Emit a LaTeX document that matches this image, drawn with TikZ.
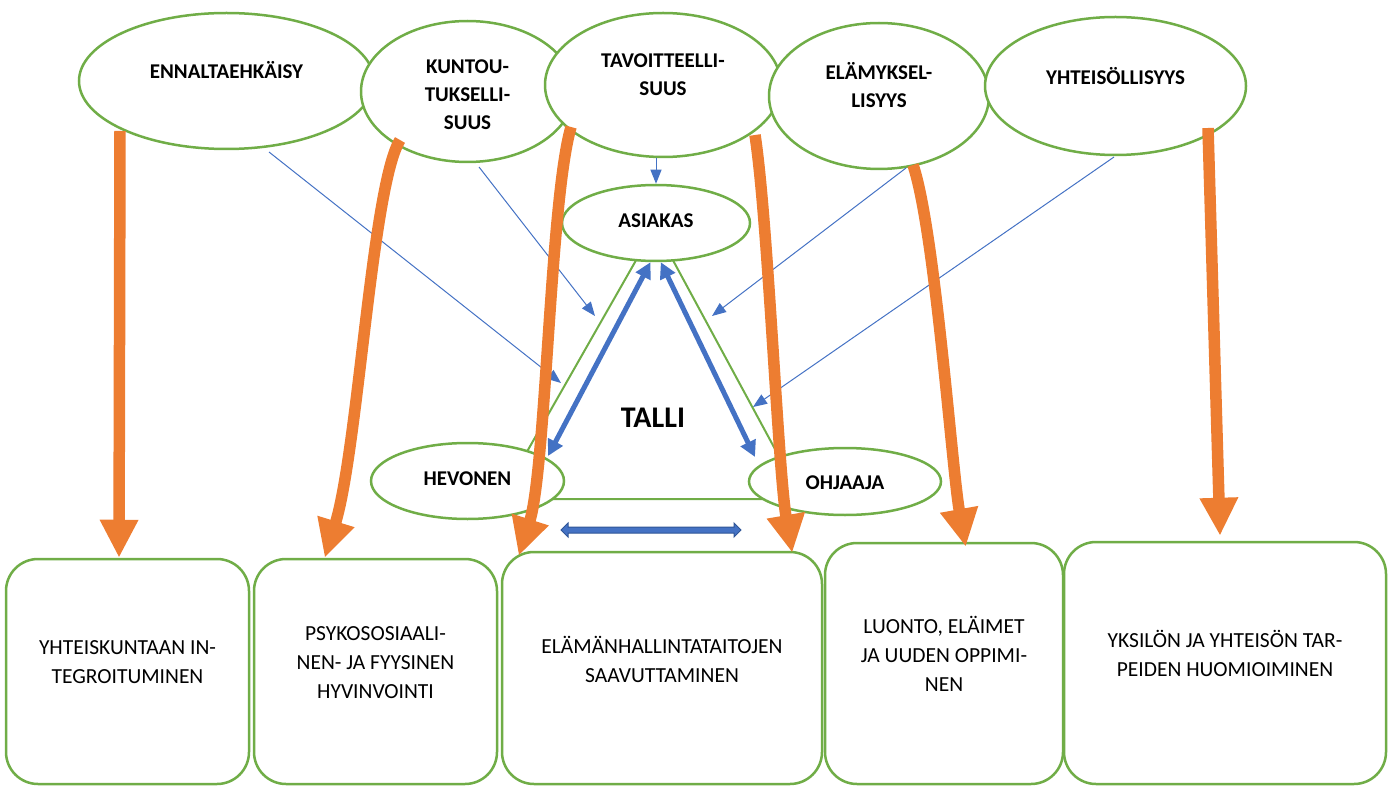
\documentclass[tikz,border=0pt]{standalone}
\usepackage{fontspec}
\setmainfont{Carlito}
\usetikzlibrary{shapes.geometric,arrows.meta}
\definecolor{gr}{HTML}{70AD47}
\definecolor{orn}{HTML}{ED7D31}
\definecolor{blu}{HTML}{4472C4}
\definecolor{dblu}{HTML}{2F5597}
\begin{document}
\begin{tikzpicture}[x=1pt,y=-1pt,
 ell/.style={ellipse, draw=gr, line width=2.5pt, fill=white, inner sep=0pt},
 ttl/.style={font=\fontsize{21}{28}\selectfont\bfseries, align=center},
 boxx/.style={draw=gr, line width=2.5pt, rounded corners=32pt, fill=white, inner sep=0pt},
 btxt/.style={font=\fontsize{21.5}{29}\selectfont, align=center},
 thinarr/.style={draw=blu, line width=1pt, -{Triangle[length=14pt,width=11pt]}},
 thickarr/.style={draw=blu, line width=5pt, {Triangle[length=16pt,width=16pt]}-{Triangle[length=16pt,width=16pt]}},
 bigarr/.style={draw=orn, line width=11.5pt, -{Triangle[length=38pt,width=36pt]}}]
\useasboundingbox (0,0) rectangle (1389,786);

% triangle (TALLI)
\coordinate (t1) at (655,227);
\coordinate (t2) at (500,499);
\coordinate (t3) at (802,499);
\draw[gr, line width=2pt] (t1) -- (t2) -- (t3) -- cycle;
\node[font=\fontsize{30}{32}\selectfont\bfseries] (talli) at (653,418) {TALLI};

% top ellipses
\node[ell, minimum width=295pt, minimum height=136pt,
  label={[ttl,yshift=11pt]center:ENNALTAEHKÄISY}] (enn) at (226.5,81) {};
\node[ell, minimum width=213pt, minimum height=141pt,
  label={[ttl,yshift=-3.5pt]center:KUNTOU-\\TUKSELLI-\\SUUS}] (kun) at (467.5,91.5) {};
\node[ell, minimum width=236pt, minimum height=144pt,
  label={[ttl,yshift=10.5pt]center:TAVOITTEELLI-\\SUUS}] (tav) at (663,85) {};
\node[ell, minimum width=220pt, minimum height=146pt,
  label={[ttl,yshift=10.5pt]center:ELÄMYKSEL-\\LISYYS}] (ela) at (879,96) {};
\node[ell, minimum width=261pt, minimum height=138pt,
  label={[ttl,yshift=10pt]center:YHTEISÖLLISYYS}] (yht) at (1115.5,86) {};

% inner ellipses
\node[ell, minimum width=188pt, minimum height=76pt,
  label={[ttl,yshift=2pt]center:ASIAKAS}] (asi) at (656,223) {};
\node[ell, minimum width=193pt, minimum height=76pt,
  label={[ttl,yshift=2pt]center:HEVONEN}] (hev) at (467.5,481) {};
\node[ell, minimum width=192pt, minimum height=67pt,
  label={[ttl,yshift=-1.5pt]center:OHJAAJA}] (ohj) at (845,481.5) {};

% bottom boxes
\node[boxx, minimum width=243pt, minimum height=225pt,
  label={[btxt,yshift=9pt]center:YHTEISKUNTAAN IN-\\TEGROITUMINEN}] (b1) at (127.5,671.5) {};
\node[boxx, minimum width=243pt, minimum height=225pt,
  label={[btxt,yshift=8.5pt]center:PSYKOSOSIAALI-\\NEN- JA FYYSINEN\\HYVINVOINTI}] (b2) at (375.5,671.5) {};
\node[boxx, minimum width=320pt, minimum height=232pt,
  label={[btxt,yshift=8.5pt]center:ELÄMÄNHALLINTATAITOJEN\\SAAVUTTAMINEN}] (b3) at (662,668) {};
\node[boxx, minimum width=238pt, minimum height=241pt,
  label={[btxt,yshift=10pt]center:LUONTO, ELÄIMET\\JA UUDEN OPPIMI-\\NEN}] (b4) at (944,663.5) {};
\node[boxx, minimum width=322pt, minimum height=242pt,
  label={[btxt,yshift=10pt]center:YKSILÖN JA YHTEISÖN TAR-\\PEIDEN HUOMIOIMINEN}] (b5) at (1225,663) {};

% thin blue arrows
\coordinate (s1) at (269,152);
\coordinate (s2) at (479,167);
\coordinate (s3) at (906,168);
\coordinate (s4) at (1114,157);
\coordinate (e1) at (561,383);
\coordinate (e2) at (595,316);
\coordinate (e3) at (712,316);
\coordinate (e4) at (753,407);
\draw[thinarr] (s1) -- (e1);
\draw[thinarr] (s2) -- (e2);
\draw[thinarr] (s3) -- (e3);
\draw[thinarr] (s4) -- (e4);
\draw[thinarr] (asi.north |- tav.south) -- (asi.north);

% thick blue double arrows
\coordinate (hevtip) at (548,456);
\coordinate (ohjtip) at (755,457);
\draw[thickarr] (asi.262) -- (hevtip);
\draw[thickarr] (asi.277) -- (ohjtip);

% horizontal block arrow
\draw[fill=blu, draw=dblu, line width=1pt, line join=miter]
  (561,530) -- (568,523) -- (568,527) -- (734,527) -- (734,523) -- (741,530)
  -- (734,537) -- (734,533) -- (568,533) -- (568,537) -- cycle;

% orange arrows
\coordinate (o1) at (120,131);
\coordinate (o2) at (400,140);
\coordinate (o3) at (571,127);
\coordinate (o4) at (755,135);
\coordinate (o5) at (913,165);
\coordinate (o6) at (1208,128);
\draw[bigarr] (o1) -- ([xshift=-8.5pt]b1.north);
\draw[bigarr] (o2) .. controls (372,185) and (358,450) .. ([xshift=72pt]b2.north west);
\draw[bigarr] (o3) .. controls (550,200) and (546,470) .. ([xshift=18pt,yshift=-5pt]b3.north west);
\draw[bigarr] (o4) .. controls (768,220) and (778,470) .. ([xshift=-31pt,yshift=-2pt]b3.north east);
\draw[bigarr] (o5) .. controls (935,230) and (952,470) .. ([xshift=142pt,yshift=-5pt]b4.north west);
\draw[bigarr] (o6) -- ([xshift=-5pt,yshift=5pt]b5.north);
\end{tikzpicture}
\end{document}
